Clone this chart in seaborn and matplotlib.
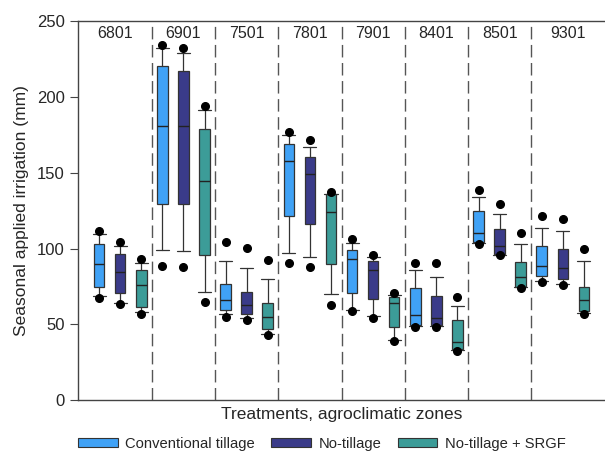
import numpy as np
import matplotlib
matplotlib.use("Agg")
import matplotlib.pyplot as plt
import matplotlib.patches as mpatches
import seaborn as sns

# zones and treatments
zones = ["6801", "6901", "7501", "7801", "7901", "8401", "8501", "9301"]
treatments = ["Conventional tillage", "No-tillage", "No-tillage + SRGF"]
colors = ["#40A2F6", "#3A3B89", "#3C9C98"]

# box stats, zone-major order (CT, NT, SRGF for each zone)
low_dot = [67, 63.3, 56.7, 88.4, 87.5, 64.6, 54.7, 52.8, 42.7, 90.6, 87.9, 62.7,
           58.7, 54.3, 39.2, 48.4, 48.4, 32.5, 102.7, 95.6, 74.1, 78, 75.7, 56.5]
whis_lo = [68.6, 63.8, 58.3, 98.9, 98.5, 71.5, 57, 54, 43.5, 97.2, 94.5, 69.9,
           59.5, 55.6, 39.5, 48.8, 48.8, 33, 103.4, 96, 74.5, 78.7, 76.5, 57.6]
q1 = [74.8, 70.4, 61.6, 129.1, 129.1, 95.6, 59.4, 56.5, 46.6, 121.6, 116.5, 89.5,
      70.4, 66.4, 48.4, 49.5, 49.5, 33.4, 104, 96.1, 74.8, 81.8, 79.6, 58.5]
med = [89.7, 84.4, 75.6, 181.2, 181.2, 144.7, 65.7, 62.7, 54.7, 157.9, 148.9, 123.8,
       92.8, 85.8, 63.8, 55.9, 53.9, 38.3, 110.2, 101.6, 81.3, 88.6, 86.9, 65.7]
q3 = [102.7, 96.7, 85.8, 220.3, 217.2, 179.2, 76.5, 71.5, 63.8, 169.3, 160.1, 136.0,
      98.9, 91.7, 67.7, 73.7, 68.6, 52.8, 125.1, 112.6, 90.8, 101.8, 99.8, 74.8]
whis_hi = [109.5, 101.4, 90.2, 232.4, 229.3, 191.7, 91.9, 87.3, 80.0, 174.8, 166.7, 136.3,
           103.4, 94.1, 69.3, 85.8, 81.3, 62.2, 133.7, 122.5, 103.1, 113.7, 111.7, 91.9]
high_dot = [111.7, 104.4, 92.8, 234.6, 232.4, 194.1, 104.4, 100.3, 92.6, 177, 171.7, 137.4,
            106, 95.6, 70.8, 90.4, 90.4, 68.2, 138.5, 129.1, 110.4, 121.6, 119.4, 99.6]

sns.set_style("ticks")
plt.rcParams['font.family'] = ['Liberation Sans', 'DejaVu Sans']

fig, ax = plt.subplots(figsize=(6.05, 4.54), dpi=100)
fig.subplots_adjust(left=0.129, right=1.0, top=0.953, bottom=0.119)

stats = []
for i in range(len(med)):
    stats.append(dict(whislo=whis_lo[i], q1=q1[i], med=med[i], q3=q3[i],
                      whishi=whis_hi[i], fliers=[low_dot[i], high_dot[i]]))

positions = np.arange(len(med))
bp = ax.bxp(stats, positions=positions, widths=0.5, patch_artist=True,
            showfliers=True,
            boxprops=dict(edgecolor="#333333", linewidth=0.9),
            medianprops=dict(color="#222222", linewidth=1.0),
            whiskerprops=dict(color="#333333", linewidth=0.9),
            capprops=dict(color="#333333", linewidth=0.9),
            flierprops=dict(marker="o", markerfacecolor="black",
                            markeredgecolor="black", markersize=5.5),
            capwidths=0.62)
for i, box in enumerate(bp["boxes"]):
    box.set_facecolor(colors[i % 3])
for fl in bp["fliers"]:
    fl.set_zorder(5)

# zone separators and labels
xmin, xmax = -1, 24
edges = [xmin] + [2.5 + 3 * k for k in range(len(zones) - 1)] + [xmax]
for x in edges[1:-1]:
    ax.axvline(x, color="#555555", linewidth=1.0, linestyle=(0, (9, 4)), zorder=0)
for k, z in enumerate(zones):
    ax.text((edges[k] + edges[k + 1]) / 2, 242, z, ha="center", va="center",
            fontsize=11.5)

ax.set_xlim(xmin, xmax)
ax.set_ylim(0, 250)
ax.set_yticks([0, 50, 100, 150, 200, 250])
ax.set_xticks([])
ax.tick_params(axis="y", labelsize=12, length=6, color="#444444")
for s in ["left", "bottom", "top"]:
    ax.spines[s].set_color("#444444")
    ax.spines[s].set_linewidth(1.0)
ax.spines["right"].set_visible(False)

ax.set_ylabel("Seasonal applied irrigation (mm)", fontsize=12.5, labelpad=6)
ax.set_xlabel("Treatments, agroclimatic zones", fontsize=12.5, labelpad=5)

handles = [mpatches.Patch(facecolor=c, edgecolor="#333333", linewidth=0.8, label=t)
           for c, t in zip(colors, treatments)]
fig.legend(handles=handles, loc="lower center", bbox_to_anchor=(0.532, -0.022),
           ncol=3, frameon=False, fontsize=10.6, handlelength=2.7,
           handleheight=0.5, columnspacing=1.1, handletextpad=0.5)

fig.savefig("out.png", dpi=100)
